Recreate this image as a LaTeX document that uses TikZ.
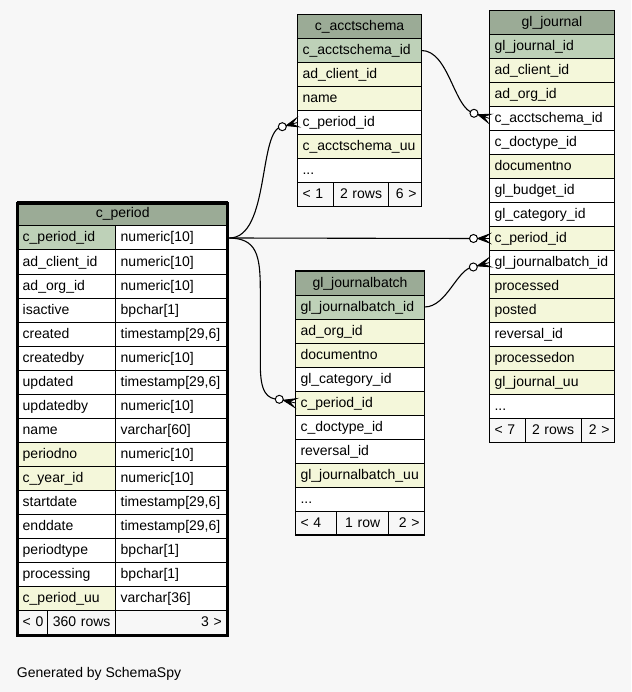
\documentclass[tikz,border=0pt]{standalone}
\usepackage{fontspec}
\setmainfont{Liberation Sans}
\usetikzlibrary{calc}
\definecolor{bg}{HTML}{F7F7F7}
\definecolor{hdr}{HTML}{9BAB96}
\definecolor{pk}{HTML}{BED1B8}
\definecolor{idx}{HTML}{F4F7DA}
\definecolor{foot}{HTML}{F7F7F7}
\tikzset{
  cell/.style={draw=black, line width=1pt, minimum height=24pt, inner ysep=0pt,
    inner xsep=5pt, outer sep=0pt, anchor=north west, text height=10.5pt,
    text depth=2.5pt, font=\fontsize{14}{16}\selectfont, align=left},
  hcell/.style={cell, fill=hdr, align=center},
  fcell/.style={cell, fill=foot},
  edge/.style={draw=black, line width=1.1pt},
  border/.style={draw=black, line width=1.5pt},
}
\newcommand\crowodot[2]{%
  \coordinate (cq) at ($(#1)!4pt!(#2)$);
  \coordinate (cm) at ($(cq)!0.5!(#2)$);
  \coordinate (ca) at ($(#2)!4.5pt!90:(#1)$);
  \coordinate (cb) at ($(#2)!4.5pt!-90:(#1)$);
  \filldraw[line width=0.8pt, line join=miter] (cq) -- (ca) -- (cm) -- (#2) -- (cm) -- (cb) -- cycle;
  \draw[line width=1pt, fill=white] (#1) circle[radius=4pt];
}
\begin{document}
\begin{tikzpicture}[x=1pt,y=-1pt]
\fill[bg] (0,0) rectangle (631,692);
\useasboundingbox (0,0) rectangle (631,692);

% ---------- c_acctschema ----------
\node[hcell, text width=114pt] (cas-h) at (297.5,14.5) {c\_acctschema};
\foreach \c/\t [count=\i] in {pk/c\_acctschema\_id, idx/ad\_client\_id, idx/name,
   white/c\_period\_id, idx/c\_acctschema\_uu}
  \node[cell, fill=\c, text width=114pt] (cas-\i) at (297.5,{38.5+24*(\i-1)}) {\t};
\node[cell, fill=white, text width=114pt] (cas-6) at (297.5,158.5) {...};
\node[fcell, text width=25.8pt] (cas-f1) at (297.5,182.5) {\mbox{< 1}};
\node[fcell, text width=45.4pt, align=center] (cas-f2) at (333.3,182.5) {\mbox{2 rows}};
\node[fcell, text width=22.8pt, align=right] (cas-f3) at (388.7,182.5) {\mbox{6 >}};
\draw[border] (cas-h.north west) rectangle (cas-f3.south east);

% ---------- gl_journal ----------
\node[hcell, text width=115pt] (glj-h) at (489.5,10.5) {gl\_journal};
\foreach \c/\t [count=\i] in {pk/gl\_journal\_id, idx/ad\_client\_id, idx/ad\_org\_id,
   white/c\_acctschema\_id, white/c\_doctype\_id, idx/documentno, white/gl\_budget\_id,
   white/gl\_category\_id, idx/c\_period\_id, white/gl\_journalbatch\_id, idx/processed,
   idx/posted, white/reversal\_id, idx/processedon, idx/gl\_journal\_uu}
  \node[cell, fill=\c, text width=115pt] (glj-\i) at (489.5,{34.5+24*(\i-1)}) {\t};
\node[cell, fill=white, text width=115pt] (glj-16) at (489.5,394.5) {...};
\node[fcell, text width=25.5pt] (glj-f1) at (489.5,418.5) {\mbox{< 7}};
\node[fcell, text width=46pt, align=center] (glj-f2) at (525,418.5) {\mbox{2 rows}};
\node[fcell, text width=23.5pt, align=right] (glj-f3) at (581,418.5) {\mbox{2 >}};
\draw[border] (glj-h.north west) rectangle (glj-f3.south east);

% ---------- gl_journalbatch ----------
\node[hcell, text width=119pt] (gjb-h) at (295.5,271) {gl\_journalbatch};
\foreach \c/\t [count=\i] in {pk/gl\_journalbatch\_id, idx/ad\_org\_id, idx/documentno,
   white/gl\_category\_id, idx/c\_period\_id, white/c\_doctype\_id, white/reversal\_id,
   idx/gl\_journalbatch\_uu}
  \node[cell, fill=\c, text width=119pt] (gjb-\i) at (295.5,{295+24*(\i-1)}) {\t};
\node[cell, fill=white, text width=119pt] (gjb-9) at (295.5,487) {...};
\node[fcell, text width=31.2pt] (gjb-f1) at (295.5,511) {\mbox{< 4}};
\node[fcell, text width=42pt, align=center] (gjb-f2) at (336.7,511) {\mbox{1 row}};
\node[fcell, text width=25.8pt, align=right] (gjb-f3) at (388.7,511) {\mbox{2 >}};
\draw[border] (gjb-h.north west) rectangle (gjb-f3.south east);

% ---------- c_period ----------
\node[hcell, text width=200pt] (cp-h) at (17.7,202) {c\_period};
\foreach \c/\n/\t [count=\i] in {pk/c\_period\_id/numeric[10], white/ad\_client\_id/numeric[10],
   white/ad\_org\_id/numeric[10], white/isactive/bpchar[1], white/created/{timestamp[29,6]},
   white/createdby/numeric[10], white/updated/{timestamp[29,6]}, white/updatedby/numeric[10],
   white/name/varchar[60], idx/periodno/numeric[10], idx/c\_year\_id/numeric[10],
   white/startdate/{timestamp[29,6]}, white/enddate/{timestamp[29,6]}, white/periodtype/bpchar[1],
   white/processing/bpchar[1], idx/c\_period\_uu/varchar[36]}
{
  \node[cell, fill=\c, text width=88pt] (cp-\i) at (17.7,{226+24*(\i-1)}) {\n};
  \node[cell, fill=white, text width=102pt] (cp-\i t) at (115.7,{226+24*(\i-1)}) {\t};
}
\node[fcell, text width=20pt] (cp-f1) at (17.7,610) {\mbox{< 0}};
\node[fcell, text width=58pt, align=center] (cp-f2) at (47.7,610) {\mbox{360 rows}};
\node[fcell, text width=100pt, inner xsep=6pt, align=right] (cp-f3) at (115.7,610) {\mbox{3 >}};
\draw[line width=3.3pt] (17.7,203.3) rectangle (227.7,635.4);

% ---------- caption ----------
\node[font=\fontsize{14}{16}\selectfont, anchor=base west, inner sep=0pt] (gen) at (16.7,677) {Generated by SchemaSpy};

% ---------- relationships ----------
\coordinate (cpE) at ($(cp-1t.east)+(1.6,0)$);
\coordinate (o1) at ($(glj-4.west)+(-15.5,-5.2)$);
\coordinate (o2) at ($(cas-4.west)+(-15.2,4.2)$);
\coordinate (o3) at ($(glj-9.west)+(-16,0)$);
\coordinate (o4) at ($(gjb-5.west)+(-16.2,-3.7)$);
\coordinate (o5) at ($(glj-10.west)+(-16.2,4.5)$);

\draw[edge] (cas-1.east) .. controls +(27.5,0) and +(-20,-4) .. (o1);
\draw[edge] (cpE) .. controls +(41,0) and +(-24.3,1.3) .. (o2);
\draw[edge] (cpE) -- (o3);
\draw[edge] (cpE) .. controls +(27,0.5) and +(0,-35) .. ++(31,51.5) -- ++(0,75)
   .. controls +(0,27) and +(-13,0) .. (o4);
\draw[edge] (gjb-1.east) .. controls +(22.5,0) and +(-16,1) .. (o5);

\crowodot{o1}{glj-4.west}
\crowodot{o2}{cas-4.west}
\crowodot{o3}{glj-9.west}
\crowodot{o4}{gjb-5.west}
\crowodot{o5}{glj-10.west}
\end{tikzpicture}
\end{document}
